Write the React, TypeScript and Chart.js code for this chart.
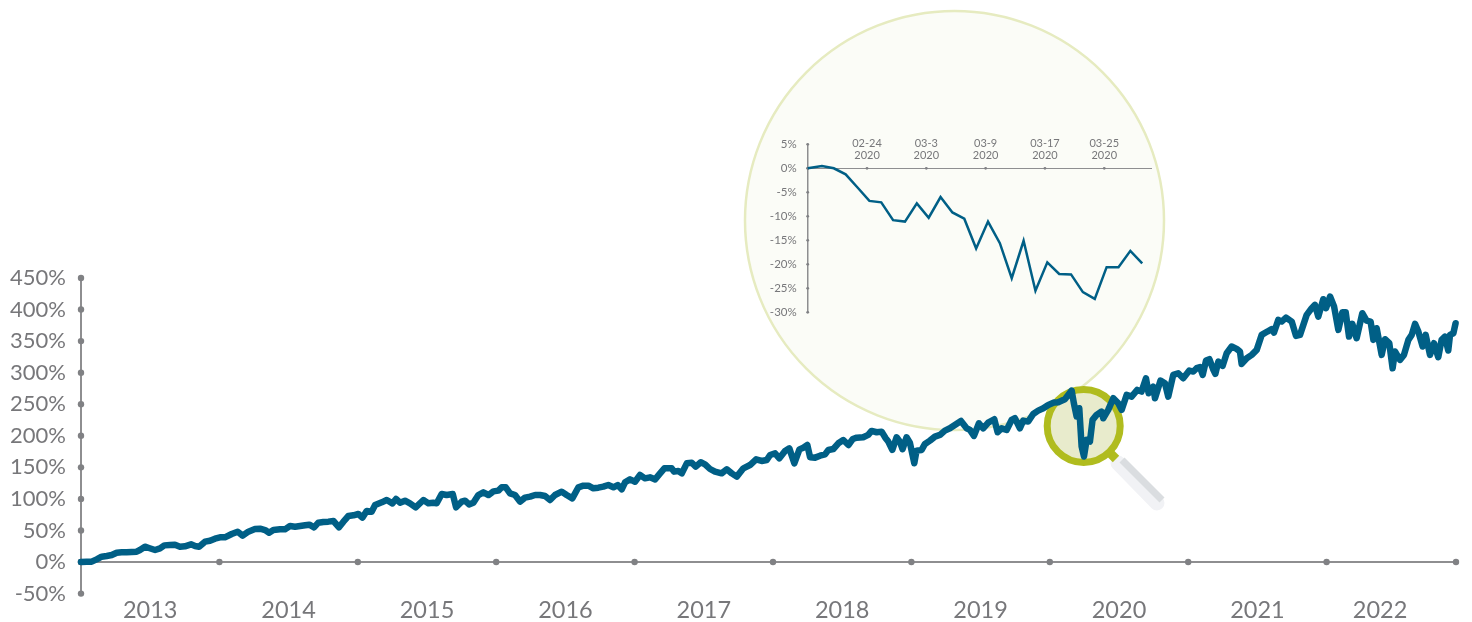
import React, { useEffect, useRef } from "react";
import { Chart, registerables } from "chart.js";

Chart.register(...registerables);

const FONT = "Lato, 'Open Sans', sans-serif";
const TEXT = "#77777a";
const AXIS = "#8e8e90";
const DOT = "#808184";
const LINE = "#005f86";

// Years since the start of the series
const yearsSinceStart = [
  0, 0.041, 0.077, 0.113, 0.149, 0.186, 0.222, 0.258, 0.294, 0.33, 0.366, 0.402, 0.426, 0.462, 0.491, 0.535, 0.571, 0.602, 0.643, 0.679, 0.715, 0.751, 0.795, 0.824, 0.853, 0.896, 0.932, 0.968, 1.004, 1.04, 1.089, 1.132, 1.168, 1.209, 1.257, 1.294, 1.33, 1.359, 1.39,
  1.438, 1.474, 1.51, 1.547, 1.583, 1.619, 1.65, 1.684, 1.715, 1.751, 1.787, 1.824, 1.864, 1.896, 1.932, 1.968, 2.004, 2.033, 2.064, 2.1, 2.125, 2.173, 2.209, 2.25, 2.276, 2.305, 2.341, 2.377, 2.418, 2.474, 2.51, 2.546, 2.57, 2.606, 2.642, 2.686, 2.71, 2.75, 2.775, 2.804,
  2.835, 2.871, 2.907, 2.944, 2.98, 3.016, 3.04, 3.069, 3.1, 3.136, 3.172, 3.208, 3.245, 3.281, 3.317, 3.353, 3.389, 3.425, 3.473, 3.509, 3.55, 3.594, 3.63, 3.666, 3.702, 3.738, 3.774, 3.81, 3.847, 3.878, 3.907, 3.931, 3.967, 4.003, 4.039, 4.075, 4.111, 4.148, 4.184, 4.215,
  4.232, 4.268, 4.285, 4.316, 4.341, 4.377, 4.413, 4.442, 4.478, 4.509, 4.545, 4.581, 4.629, 4.666, 4.702, 4.738, 4.786, 4.834, 4.878, 4.918, 4.955, 4.979, 5.015, 5.046, 5.087, 5.118, 5.154, 5.191, 5.219, 5.248, 5.268, 5.304, 5.34, 5.376, 5.4, 5.436, 5.472, 5.508, 5.545, 5.576, 5.605,
  5.652, 5.688, 5.712, 5.749, 5.785, 5.814, 5.833, 5.862, 5.893, 5.917, 5.936, 5.965, 5.989, 6.021, 6.037, 6.074, 6.098, 6.134, 6.17, 6.206, 6.242, 6.278, 6.314, 6.358, 6.399, 6.423, 6.452, 6.488, 6.519, 6.555, 6.599, 6.623, 6.652, 6.688, 6.724, 6.748, 6.784, 6.808, 6.844, 6.88, 6.916, 6.953, 6.989, 7.03,
  7.061, 7.109, 7.158, 7.174, 7.194, 7.213, 7.23, 7.247, 7.266, 7.29, 7.309, 7.338, 7.374, 7.386, 7.422, 7.459, 7.495, 7.519, 7.555, 7.591, 7.632, 7.663, 7.695, 7.714, 7.747, 7.76, 7.8, 7.832, 7.856, 7.892, 7.928, 7.964, 8.008,
  8.037, 8.061, 8.085, 8.105, 8.129, 8.153, 8.182, 8.196, 8.218, 8.249, 8.278, 8.314, 8.35, 8.374, 8.386, 8.423, 8.459, 8.495, 8.531, 8.572, 8.603, 8.62, 8.651, 8.675, 8.707, 8.748, 8.779, 8.808, 8.856, 8.892, 8.916, 8.94, 8.976, 8.996, 9.025, 9.054, 9.085, 9.114, 9.138, 9.162, 9.186, 9.217, 9.258, 9.289, 9.318, 9.338, 9.362, 9.398, 9.422, 9.453, 9.477, 9.494, 9.53, 9.559, 9.591, 9.615, 9.639, 9.663, 9.694, 9.716, 9.747, 9.776, 9.807, 9.831, 9.855, 9.879, 9.892, 9.916, 9.932,
];

// Cumulative return, percent
const cumulativeReturn = [
  0, 0.6, 0.6, 4.3, 8.5, 9.6, 11.1, 14.8, 15.4, 15.4, 15.9, 16.4, 19.1, 24.3, 22.2, 19.1, 21.7, 26.4, 27, 27.5, 24.3, 24.9, 28, 25.4, 24.3, 32.3, 33.8, 37, 39.1, 39.1, 44.4, 48.1, 41.8, 48.1, 52.3, 52.9, 50.7, 46.5, 50.7,
  51.8, 51.8, 57.1, 56, 57.1, 58.2, 59.2, 55, 62.4, 63.4, 64, 65, 55, 64, 72.9, 74, 76.1, 70.3, 80.9, 79.8, 90.4, 94.6, 98.3, 93, 99.9, 94, 97.2, 93, 86.7, 98.3, 93, 94, 93, 107.8, 106.2, 107.8, 86.7, 95.6, 97.2, 91.4,
  94, 106.2, 110.4, 106.2, 112, 113.1, 118.4, 118.4, 108.9, 106.2, 95.7, 102, 103.6, 106.2, 106.2, 104.6, 98.3, 106.2, 111.5, 106.2, 100.9, 118.4, 121, 121, 116.8, 117.8, 119.4, 122, 118.4, 122, 115.2, 126.3, 131, 127.3, 137.9, 132.6, 134.2, 131, 140.5, 148.5,
  148.5, 148.5, 143.2, 144.2, 140.5, 156.4, 157.4, 151.1, 158, 154.8, 147.4, 143.2, 140.5, 146.9, 140.5, 135.3, 148.5, 153.7, 162.7, 160.1, 161.7, 169.6, 172.2, 164.3, 175.9, 180.1, 156.4, 178.5, 181.2, 185.4, 165.9, 165.4, 168.5, 170.6, 177.5, 179.1, 188.1, 193.3, 185.4, 194.9, 197,
  197.7, 201.4, 207.7, 205.6, 206.6, 196.1, 190.8, 177.6, 197.7, 190.8, 178.7, 197.7, 189.2, 156.5, 176.5, 177.6, 187.1, 192.4, 198.7, 201.4, 208.2, 211.9, 217.2, 223.5, 211.9, 209.3, 199.8, 219.8, 211.9, 220.9, 226.2, 205.6, 211.9, 209.3, 225.1, 227.8, 211.9, 224.1, 222.5, 234.6, 239.9, 243.6, 248.9, 252.6,
  253.2, 257.9, 271.6, 251.6, 230.5, 243.7, 182.9, 167.1, 193.5, 190.9, 225.2, 233.1, 238.4, 227.8, 241, 259.5, 251.6, 241, 264.8, 262.1, 272.7, 270.1, 291.2, 267.4, 278, 259.5, 287.5, 283.3, 262.1, 296.5, 299.1, 291.2, 303.3,
  301.8, 307.1, 308.7, 296.5, 319.2, 321.3, 304.4, 298.1, 317.6, 310.8, 330.8, 341.4, 337.7, 333.5, 313.9, 322.9, 328.2, 336.1, 359.9, 365.2, 368.9, 363.6, 383.6, 381, 387.3, 381, 358.3, 359.9, 391.6, 402.1, 407.4, 388.9, 416.4, 402.1, 420.6, 404.8, 367.8, 395.8, 395.8, 357.2, 377.3, 354.6, 394.2, 382.6, 381, 352, 370.4, 328.2, 353, 346.7, 307.1, 333.5, 320.3, 328.2, 352, 359.9, 377.3, 365.2, 341.4, 359.9, 328.2, 346.7, 324.5, 352, 357.2, 335.1, 359.9, 362.5, 378.4,
];

const yearTickValues = [0, 1, 2, 3, 4, 5, 6, 7, 8, 9, 9.935];
const yearNames = ["2013", "2014", "2015", "2016", "2017", "2018", "2019", "2020", "2021", "2022"];
const yearLabelValues = [0.5, 1.5, 2.5, 3.5, 4.5, 5.5, 6.5, 7.5, 8.5, 9.386];

// Inset: the February-March 2020 drawdown
const insetDays = [0, 1.2, 2.2, 3.2, 4.2, 5.2, 6.2, 7.2, 8.2, 9.2, 10.2, 11.2, 12.2, 13.2, 14.2, 15.2, 16.2, 17.2, 18.2, 19.2, 20.2, 21.2, 22.2, 23.2, 24.2, 25.2, 26.2, 27.2, 28.2];
const insetReturn = [0, 0.5, 0, -1.25, -4, -6.8, -7.1, -10.8, -11.1, -7.3, -10.3, -6, -9.2, -10.5, -16.7, -11.1, -15.6, -22.9, -15.1, -25.5, -19.6, -22, -22.1, -25.8, -27.2, -20.6, -20.6, -17.2, -19.8];
const insetTickDays = [0, 5, 10, 15, 20, 25];
const insetTickLabels = ["", ["02-24", "2020"], ["03-3", "2020"], ["03-9", "2020"], ["03-17", "2020"], ["03-25", "2020"]];

const drawDots = (scale: any, fixed: number, r: number, color: string) => {
  const ctx = scale.ctx;
  ctx.save();
  ctx.fillStyle = color;
  scale.ticks.forEach((t: any) => {
    const p = scale.getPixelForValue(t.value);
    ctx.beginPath();
    if (scale.isHorizontal()) ctx.arc(p, fixed, r, 0, Math.PI * 2);
    else ctx.arc(fixed, p, r, 0, Math.PI * 2);
    ctx.fill();
  });
  ctx.restore();
};

const backdrop = {
  id: "backdrop",
  beforeDatasetsDraw(chart: any) {
    const { ctx, scales } = chart;
    ctx.save();
    // large call-out circle
    ctx.beginPath();
    ctx.arc(954.5, 220.5, 209.5, 0, Math.PI * 2);
    ctx.fillStyle = "#fbfcf7";
    ctx.fill();
    ctx.lineWidth = 2.5;
    ctx.strokeStyle = "#e6ebc0";
    ctx.stroke();
    // magnifier handle
    ctx.lineCap = "round";
    ctx.lineWidth = 15;
    ctx.strokeStyle = "#f1f2f5";
    ctx.beginPath();
    ctx.moveTo(1118, 463);
    ctx.lineTo(1157, 503);
    ctx.stroke();
    ctx.lineCap = "butt";
    ctx.lineWidth = 7;
    ctx.strokeStyle = "#dadde0";
    ctx.beginPath();
    ctx.moveTo(1122, 460);
    ctx.lineTo(1162, 500);
    ctx.stroke();
    // neck
    ctx.lineWidth = 9;
    ctx.strokeStyle = "#b0bc1e";
    ctx.beginPath();
    ctx.moveTo(1108, 451);
    ctx.lineTo(1116, 459);
    ctx.stroke();
    // lens
    ctx.beginPath();
    ctx.arc(1083.7, 426, 36.5, 0, Math.PI * 2);
    ctx.fillStyle = "#e8ebcc";
    ctx.fill();
    ctx.lineWidth = 7;
    ctx.strokeStyle = "#b0bc1e";
    ctx.stroke();
    ctx.restore();
    drawDots(scales.x, scales.y.getPixelForValue(0), 3.2, DOT);
    drawDots(scales.y, scales.x.getPixelForValue(0), 3.2, DOT);
  },
};

const insetDots = {
  id: "insetDots",
  beforeDatasetsDraw(chart: any) {
    const { scales } = chart;
    drawDots(scales.x, scales.y.getPixelForValue(0), 1.4, DOT);
    drawDots(scales.y, scales.x.getPixelForValue(0), 1.4, DOT);
  },
};

export default function App() {
  const mainRef = useRef<HTMLCanvasElement>(null);
  const insetRef = useRef<HTMLCanvasElement>(null);

  useEffect(() => {
    const main = new Chart(mainRef.current!, {
      type: "line",
      data: {
        datasets: [
          {
            data: yearsSinceStart.map((x, i) => ({ x, y: cumulativeReturn[i] })),
            borderColor: LINE,
            borderWidth: 6.5,
            pointRadius: 0,
            tension: 0,
            borderJoinStyle: "round",
            borderCapStyle: "round",
            clip: false,
          },
        ],
      },
      options: {
        animation: false,
        responsive: false,
        layout: { padding: { left: 0, right: 16, top: 278, bottom: 0 } },
        plugins: { legend: { display: false }, tooltip: { enabled: false } },
        scales: {
          x: {
            type: "linear",
            position: { y: 0 },
            min: 0,
            max: 9.935,
            afterBuildTicks: (s: any) => {
              s.ticks = yearTickValues.map((value) => ({ value }));
            },
            afterFit: (s: any) => {
              s.height = 0;
            },
            grid: { display: false, drawTicks: false },
            border: { display: true, color: AXIS, width: 2 },
            ticks: { display: false },
          },
          xYears: {
            type: "linear",
            position: "bottom",
            axis: "x",
            min: 0,
            max: 9.935,
            afterBuildTicks: (s: any) => {
              s.ticks = yearLabelValues.map((value) => ({ value }));
            },
            afterFit: (s: any) => {
              s.height = 28.4;
            },
            grid: { display: false, drawTicks: false },
            border: { display: false },
            ticks: {
              autoSkip: false,
              maxRotation: 0,
              padding: 3,
              color: TEXT,
              font: { family: FONT, size: 23.5, weight: "400" },
              callback: (v: any) => yearNames[yearLabelValues.indexOf(v)],
            },
          },
          y: {
            type: "linear",
            position: "left",
            min: -50,
            max: 450,
            afterFit: (s: any) => {
              s.width = 81;
            },
            grid: { display: false, drawTicks: false },
            border: { display: true, color: AXIS, width: 2 },
            ticks: {
              stepSize: 50,
              padding: 15,
              color: TEXT,
              font: { family: FONT, size: 22, weight: "400" },
              callback: (v: any) => `${v}%`,
            },
          },
        },
      } as any,
      plugins: [backdrop],
    } as any);

    const inset = new Chart(insetRef.current!, {
      type: "line",
      data: {
        datasets: [
          {
            data: insetDays.map((x, i) => ({ x, y: insetReturn[i] })),
            borderColor: LINE,
            borderWidth: 2.5,
            pointRadius: 0,
            tension: 0,
            borderJoinStyle: "miter",
            clip: false,
          },
        ],
      },
      options: {
        animation: false,
        responsive: false,
        layout: { padding: { left: 707.7, right: 320.3, top: 144.3, bottom: 309.7 } },
        plugins: { legend: { display: false }, tooltip: { enabled: false } },
        scales: {
          x: {
            type: "linear",
            position: { y: 0 },
            min: 0,
            max: 29,
            afterBuildTicks: (s: any) => {
              s.ticks = insetTickDays.map((value) => ({ value }));
            },
            afterFit: (s: any) => {
              s.height = 0;
            },
            grid: { display: false, drawTicks: false },
            border: { display: true, color: AXIS, width: 1 },
            ticks: {
              autoSkip: false,
              maxRotation: 0,
              padding: -31,
              color: TEXT,
              font: { family: FONT, size: 11, weight: "400", lineHeight: 1.1 },
              callback: (v: any) => insetTickLabels[insetTickDays.indexOf(v)],
            },
          },
          y: {
            type: "linear",
            position: "left",
            min: -30,
            max: 5,
            afterFit: (s: any) => {
              s.width = 100;
            },
            grid: { display: false, drawTicks: false },
            border: { display: true, color: AXIS, width: 1.5 },
            ticks: {
              stepSize: 5,
              padding: 11,
              color: TEXT,
              font: { family: FONT, size: 11.5, weight: "400" },
              callback: (v: any) => `${v}%`,
            },
          },
        },
      } as any,
      plugins: [insetDots],
    } as any);

    return () => {
      main.destroy();
      inset.destroy();
    };
  }, []);

  const layer: React.CSSProperties = { position: "absolute", left: 0, top: 0, display: "block" };
  return (
    <div style={{ position: "fixed", left: 0, top: 0, width: 1472, height: 622, background: "#fff", overflow: "hidden" }}>
      <canvas ref={mainRef} width={1472} height={622} style={layer} />
      <canvas ref={insetRef} width={1472} height={622} style={layer} />
    </div>
  );
}
